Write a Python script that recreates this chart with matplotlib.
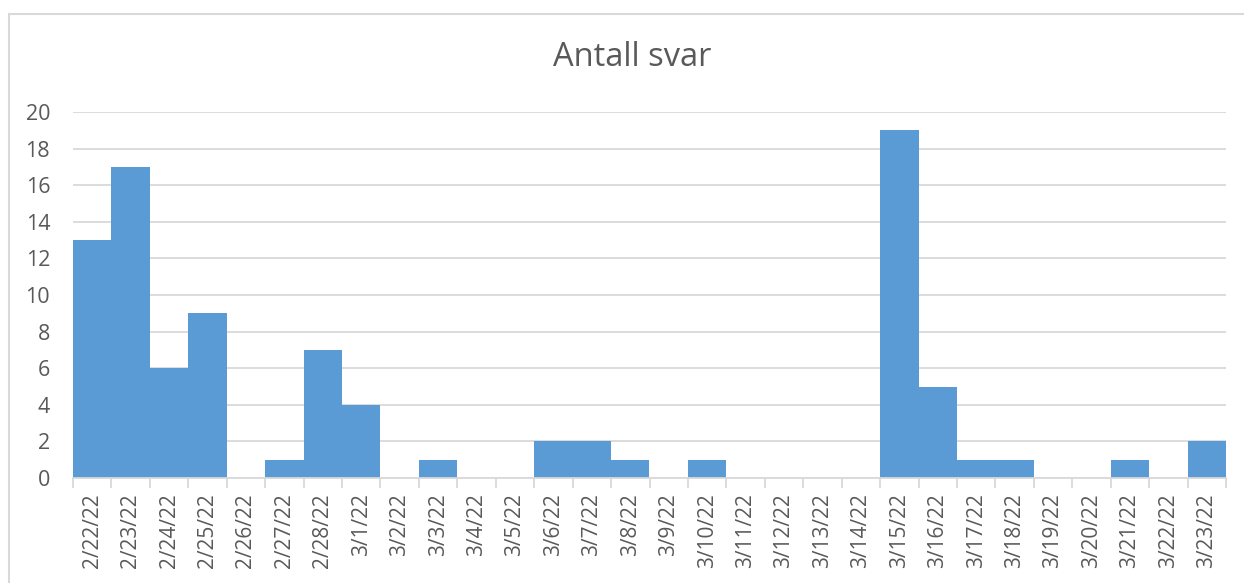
import matplotlib
matplotlib.use("Agg")
import matplotlib.pyplot as plt
import numpy as np

plt.rcParams["font.family"] = ["Open Sans", "DejaVu Sans"]

# data: responses per day
dates = ["2/22/22", "2/23/22", "2/24/22", "2/25/22", "2/26/22", "2/27/22", "2/28/22",
         "3/1/22", "3/2/22", "3/3/22", "3/4/22", "3/5/22", "3/6/22", "3/7/22", "3/8/22",
         "3/9/22", "3/10/22", "3/11/22", "3/12/22", "3/13/22", "3/14/22", "3/15/22",
         "3/16/22", "3/17/22", "3/18/22", "3/19/22", "3/20/22", "3/21/22", "3/22/22", "3/23/22"]
counts = [13, 17, 6, 9, 0, 1, 7, 4, 0, 1, 0, 0, 2, 2, 1, 0, 1, 0, 0, 0, 0, 19, 5, 1, 1, 0, 0, 1, 0, 2]
yticks = [0, 2, 4, 6, 8, 10, 12, 14, 16, 18, 20]

W, H = 1244, 583
fig = plt.figure(figsize=(W / 100, H / 100), dpi=100)
ax = fig.add_axes([73 / W, 1 - 478 / H, (1226 - 73) / W, (478 - 112) / H])

x = np.arange(len(dates))
ax.bar(x, counts, width=1.0, color="#5B9BD5", linewidth=0, zorder=3)
ax.set_xlim(-0.5, len(dates) - 0.5)
ax.set_ylim(0, 20)

ax.set_yticks(yticks)
ax.set_yticklabels([str(v) for v in yticks], fontsize=15.5, color="#595959")
ax.tick_params(axis="y", length=0, pad=16.5)
ax.yaxis.grid(True, color="#D9D9D9", linewidth=1.3, zorder=0)

# ticks sit at category boundaries, labels at centres
ax.set_xticks(np.arange(len(dates) + 1) - 0.5)
ax.set_xticklabels([])
ax.set_xticks(x, minor=True)
ax.set_xticklabels(dates, minor=True, rotation=90, fontsize=15, color="#595959")
ax.tick_params(axis="x", which="major", length=7, width=1.3, color="#D9D9D9")
ax.tick_params(axis="x", which="minor", length=0, pad=11)

for s in ["top", "right", "left"]:
    ax.spines[s].set_visible(False)
ax.spines["bottom"].set_color("#D9D9D9")
ax.spines["bottom"].set_linewidth(1.3)
ax.spines["bottom"].set_zorder(4)

fig.text(632 / W, 1 - 58 / H, "Antall svar", ha="center", va="center",
         fontsize=23.5, color="#595959")

# chart frame
fig.patches.append(plt.Rectangle((9 / W, -0.1), 1.2, 1 - 14 / H + 0.1,
                                 transform=fig.transFigure, fill=False,
                                 edgecolor="#D9D9D9", linewidth=1.5))

fig.savefig("out.png", dpi=100)
